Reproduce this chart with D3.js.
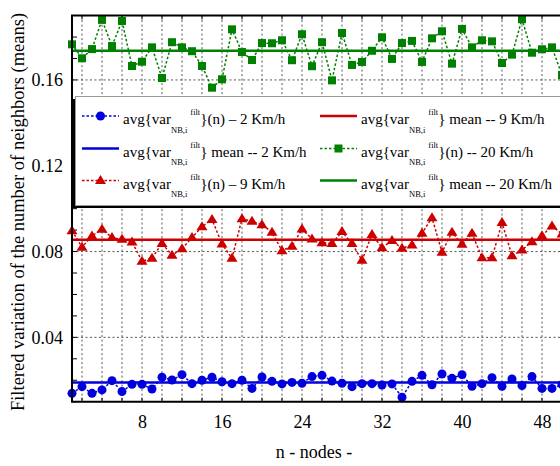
<!DOCTYPE html>
<html><head><meta charset="utf-8">
<script src="https://cdn.jsdelivr.net/npm/d3@7"></script>
<style>body{margin:0;background:#fff}text{font-family:'Liberation Serif','Tinos','DejaVu Serif',serif}</style>
</head><body><svg id="c" width="560" height="466" font-family="'Liberation Serif', serif"></svg>
<script>
const nodes = d3.range(1, 51);
const v2 = [0.0139,0.0170,0.0139,0.0155,0.0198,0.0147,0.0181,0.0181,0.0159,0.0214,0.0201,0.0226,0.0184,0.0200,0.0214,0.0193,0.0184,0.0200,0.0162,0.0215,0.0195,0.0183,0.0190,0.0186,0.0217,0.0223,0.0196,0.0186,0.0170,0.0184,0.0184,0.0178,0.0183,0.0121,0.0195,0.0223,0.0179,0.0229,0.0209,0.0226,0.0172,0.0184,0.0212,0.0172,0.0206,0.0175,0.0217,0.0162,0.0162,0.0180];
const v9 = [0.0897,0.0820,0.0873,0.0904,0.0865,0.0857,0.0845,0.0755,0.0769,0.0838,0.0783,0.0813,0.0865,0.0916,0.0950,0.0835,0.0769,0.0953,0.0941,0.0925,0.0890,0.0804,0.0825,0.0905,0.0859,0.0841,0.0838,0.0893,0.0837,0.0759,0.0880,0.0818,0.0851,0.0815,0.0831,0.0885,0.0958,0.0797,0.0890,0.0834,0.0885,0.0771,0.0771,0.0935,0.0781,0.0807,0.0846,0.0874,0.0919,0.0882];
const v20 = [0.1766,0.1701,0.1744,0.1880,0.1758,0.1875,0.1665,0.1685,0.1752,0.1609,0.1776,0.1752,0.1734,0.1665,0.1564,0.1603,0.1836,0.1730,0.1693,0.1772,0.1771,0.1785,0.1692,0.1813,0.1664,0.1776,0.1598,0.1819,0.1670,0.1684,0.1736,0.1799,0.1698,0.1772,0.1782,0.1684,0.1794,0.1827,0.1676,0.1838,0.1752,0.1785,0.1780,0.1679,0.1718,0.1883,0.1727,0.1743,0.1752,0.1623];
const means = [0.0189, 0.0855, 0.1736];
const speeds = ["2", "9", "20"];
const colors = ["#0000dd", "#cc0000", "#008000"];
const yTicks = [0.04, 0.08, 0.12, 0.16];
const xTicks = [8, 16, 24, 32, 40, 48];
const yLabel = "Filtered variation of the number of neighbors (means)";
const xLabel = "n - nodes -";

const FONT = "'Liberation Serif', 'Tinos', 'DejaVu Serif', serif";
const svg = d3.select("#c");
const L = 72, R = 562, T = 15.6, B = 401.7;
const x = d3.scaleLinear().domain([1, 50]).range([L, R]);
const y = d3.scaleLinear().domain([0.01, 0.19]).range([B, T]);

// grid
const g = svg.append("g");
g.selectAll(".vg").data(d3.range(2, 51, 2)).join("line")
  .attr("x1", d => x(d)).attr("x2", d => x(d)).attr("y1", T).attr("y2", B)
  .attr("stroke", "#555").attr("stroke-width", 1).attr("stroke-dasharray", "2,2.5");
g.selectAll(".hg").data(yTicks).join("line")
  .attr("x1", L).attr("x2", R).attr("y1", d => y(d)).attr("y2", d => y(d))
  .attr("stroke", "#555").attr("stroke-width", 1).attr("stroke-dasharray", "2,2.5");

// minor ticks
g.selectAll(".yt").data(d3.range(0.01, 0.19, 0.01)).join("line")
  .attr("x1", L).attr("x2", L + 5).attr("y1", d => y(d)).attr("y2", d => y(d))
  .attr("stroke", "#000").attr("stroke-width", 1);
g.selectAll(".xt").data(d3.range(2, 51, 2)).join("line")
  .attr("x1", d => x(d)).attr("x2", d => x(d)).attr("y1", T).attr("y2", T + 4)
  .attr("stroke", "#000").attr("stroke-width", 1);
g.selectAll(".xb").data(d3.range(2, 51, 2)).join("line")
  .attr("x1", d => x(d)).attr("x2", d => x(d)).attr("y1", B).attr("y2", B - 4)
  .attr("stroke", "#000").attr("stroke-width", 1);

// axis labels via d3 axes
const yAx = svg.append("g").attr("transform", `translate(${L},0)`)
  .call(d3.axisLeft(y).tickValues(yTicks).tickFormat(d3.format(".2f")).tickSize(0).tickPadding(9));
yAx.attr("font-family", FONT);
yAx.select(".domain").remove();
yAx.selectAll("text").attr("font-size", 18).attr("font-family", FONT).attr("fill", "#000");
const xAx = svg.append("g").attr("transform", `translate(0,${B})`)
  .call(d3.axisBottom(x).tickValues(xTicks).tickFormat(d3.format("d")).tickSize(0).tickPadding(14));
xAx.attr("font-family", FONT);
xAx.select(".domain").remove();
xAx.selectAll("text").attr("font-size", 18).attr("font-family", FONT).attr("fill", "#000");

svg.append("text").attr("transform", "translate(24,212) rotate(-90)")
  .attr("text-anchor", "middle").attr("font-size", 18.5).attr("font-family", FONT).text(yLabel);
svg.append("text").attr("x", 314).attr("y", 458)
  .attr("text-anchor", "middle").attr("font-size", 18).attr("font-family", FONT).text(xLabel);

const series = [v2, v9, v20];
const line = d3.line().x((d, i) => x(nodes[i])).y(d => y(d));

function marker(sel, k, cx, cy) {
  const c = colors[k];
  if (k === 0) sel.append("circle").attr("cx", cx).attr("cy", cy).attr("r", 4.5).attr("fill", c);
  else if (k === 1) sel.append("path").attr("d", `M${cx},${cy - 5.5}L${cx + 5.5},${cy + 3.5}L${cx - 5.5},${cy + 3.5}Z`).attr("fill", c);
  else sel.append("rect").attr("x", cx - 4).attr("y", cy - 4).attr("width", 8).attr("height", 8).attr("fill", c);
}

series.forEach((vals, k) => {
  svg.append("path").attr("d", line(vals)).attr("fill", "none")
    .attr("stroke", colors[k]).attr("stroke-width", 1.5).attr("stroke-dasharray", "2.5,2");
  svg.append("line").attr("x1", L).attr("x2", R).attr("y1", y(means[k])).attr("y2", y(means[k]))
    .attr("stroke", colors[k]).attr("stroke-width", 2.5);
  const mg = svg.append("g");
  vals.forEach((v, i) => marker(mg, k, x(nodes[i]), y(v)));
});

// frame
svg.append("path").attr("d", `M${R},${T}L${L},${T}L${L},${B}L${R},${B}`)
  .attr("fill", "none").attr("stroke", "#000").attr("stroke-width", 2);

// legend
const lg = svg.append("g");
lg.append("rect").attr("x", 73).attr("y", 99).attr("width", 500).attr("height", 109).attr("fill", "#000");
lg.append("rect").attr("x", 75.5).attr("y", 96.5).attr("width", 500).attr("height", 109)
  .attr("fill", "#fff").attr("stroke", "#999").attr("stroke-width", 1);

const entries = [
  {k: 0, type: "pts", tail: "}(n) \u2013 2 Km/h"},
  {k: 0, type: "mean", tail: "} mean -- 2 Km/h"},
  {k: 1, type: "pts", tail: "}(n) \u2013 9 Km/h"},
  {k: 1, type: "mean", tail: "} mean -- 9 Km/h"},
  {k: 2, type: "pts", tail: "}(n) -- 20 Km/h"},
  {k: 2, type: "mean", tail: "} mean -- 20 Km/h"}
];
const rowsY = [116, 148.5, 180.5];
entries.forEach((e, i) => {
  const col = Math.floor(i / 3), row = i % 3;
  const sx = col === 0 ? 82 : 320, tx = col === 0 ? 123 : 361;
  const cy = rowsY[row];
  if (e.type === "pts") {
    lg.append("line").attr("x1", sx).attr("x2", sx + 37).attr("y1", cy).attr("y2", cy)
      .attr("stroke", colors[e.k]).attr("stroke-width", 1.5).attr("stroke-dasharray", "2.5,2");
    marker(lg, e.k, sx + 18.5, cy);
  } else {
    lg.append("line").attr("x1", sx).attr("x2", sx + 37).attr("y1", cy).attr("y2", cy)
      .attr("stroke", colors[e.k]).attr("stroke-width", 2.5);
  }
  const t = lg.append("text").attr("x", tx).attr("y", cy + 8.3).attr("font-size", 15).attr("font-family", FONT);
  t.append("tspan").text("avg{var");
  t.append("tspan").attr("font-size", 8.5).attr("dy", 8.4).text("NB,i");
  t.append("tspan").attr("font-size", 8.5).attr("dx", 3).attr("dy", -17.7).text("filt");
  t.append("tspan").attr("dy", 9.3).text(e.tail);
});
</script>
</body></html>
